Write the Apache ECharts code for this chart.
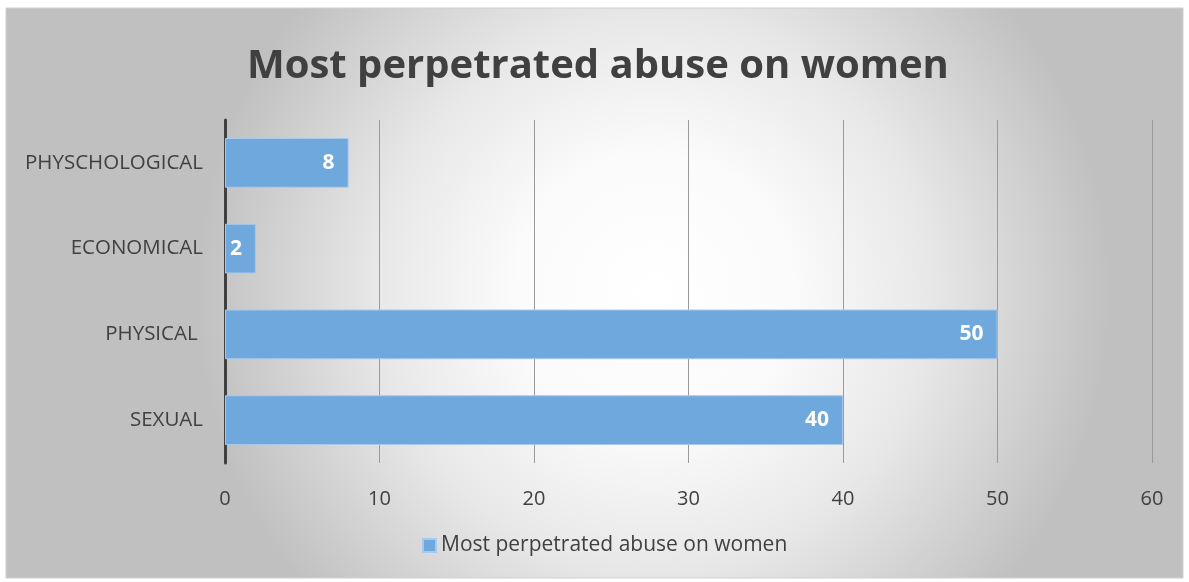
<!DOCTYPE html>
<html>
<head>
<meta charset="utf-8">
<script src="https://cdn.jsdelivr.net/npm/echarts@6/dist/echarts.min.js"></script>
<style>
  html, body { margin: 0; padding: 0; background: #fff; }
  #chart { width: 1189px; height: 582px; }
</style>
</head>
<body>
<div id="chart"></div>
<script>
const categories = ['SEXUAL', 'PHYSICAL ', 'ECONOMICAL', 'PHYSCHOLOGICAL'];
const values = [40, 50, 2, 8];
const seriesName = 'Most perpetrated abuse on women';
const xTicks = [0, 10, 20, 30, 40, 50, 60];

const myChart = echarts.init(document.getElementById('chart'));
const font = '"Open Sans", "Noto Sans", sans-serif';

const option = {
  animation: false,
  graphic: [
    {
      type: 'rect',
      z: -10,
      silent: true,
      shape: { x: 6, y: 8, width: 1177, height: 570 },
      style: {
        fill: new echarts.graphic.RadialGradient(0.55, 0.5, 0.8, [
          { offset: 0, color: '#ffffff' },
          { offset: 0.3, color: '#fbfbfb' },
          { offset: 0.6, color: '#e8e8e8' },
          { offset: 1, color: '#c0c0c0' }
        ]),
        stroke: '#d0d0d0',
        lineWidth: 1
      }
    }
  ],
  title: {
    text: 'Most perpetrated abuse on women',
    left: 242,
    top: 42,
    textStyle: { fontFamily: font, fontSize: 40, fontWeight: 'bold', color: '#404040' }
  },
  legend: {
    bottom: 21,
    left: 417,
    icon: 'rect',
    itemWidth: 13,
    itemHeight: 13,
    itemGap: 6,
    textStyle: { fontFamily: font, fontSize: 21, color: '#404040' },
    data: [seriesName]
  },
  grid: { left: 225, right: 37, top: 120, bottom: 119 },
  xAxis: {
    type: 'value',
    min: 0,
    max: 60,
    interval: 10,
    axisLine: { show: false },
    axisTick: { show: false },
    axisLabel: {
      fontFamily: font, fontSize: 20, color: '#404040', margin: 26,
      formatter: v => xTicks.includes(v) ? String(v) : ''
    },
    splitLine: { show: true, lineStyle: { color: '#9a9a9a', width: 1 } }
  },
  yAxis: {
    type: 'category',
    data: categories,
    axisLine: { show: true, lineStyle: { color: '#404040', width: 3 } },
    axisTick: { show: false },
    axisLabel: { fontFamily: font, fontSize: 20.5, color: '#404040', margin: 22 }
  },
  series: [
    {
      name: seriesName,
      type: 'bar',
      data: values,
      barWidth: '58%',
      itemStyle: { color: '#6fa8dc', borderColor: '#a9c9ea', borderWidth: 1 },
      label: {
        show: true,
        position: 'insideRight',
        distance: 14,
        fontFamily: font,
        fontSize: 21,
        fontWeight: 'bold',
        color: '#ffffff'
      }
    }
  ]
};

myChart.setOption(option);
</script>
</body>
</html>
